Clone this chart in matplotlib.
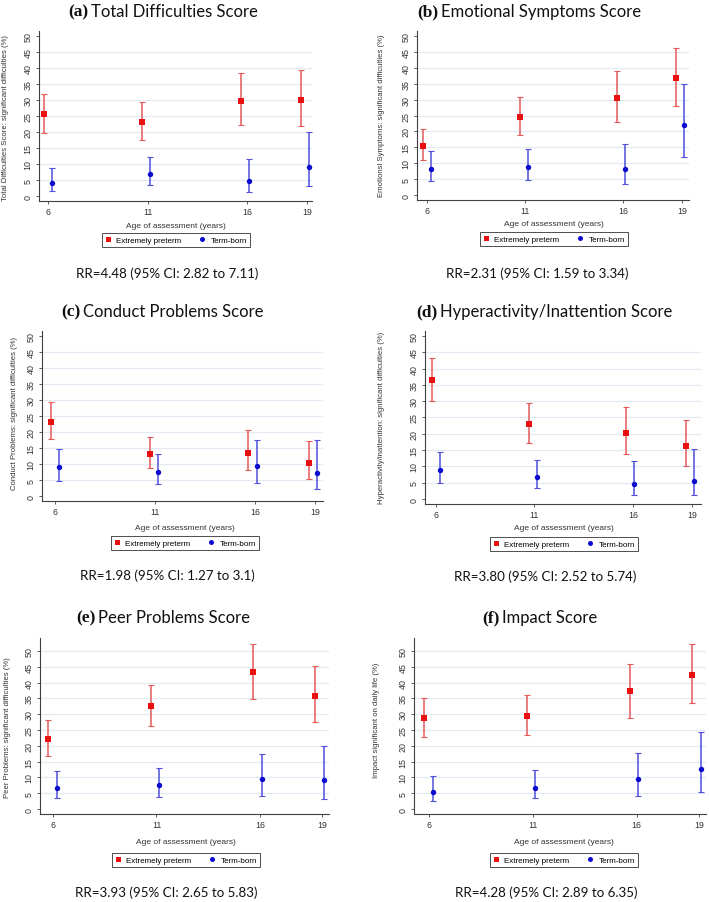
import matplotlib
matplotlib.use("Agg")
import matplotlib.pyplot as plt
from matplotlib.lines import Line2D

W, H = 709, 903

# ---------------- data ----------------
ages_ticks = [6, 11, 16, 19]
age_labels = ["6", "11", "16", "19"]
ages_ep = [5.78, 10.73, 15.67, 18.68]
ages_tb = [6.20, 11.13, 16.08, 19.08]

tds_ep = [25.5, 23.0, 29.8, 30.1]
tds_ep_lo = [19.8, 17.6, 22.3, 22.0]
tds_ep_hi = [31.8, 29.4, 38.3, 39.4]
tds_tb = [4.2, 6.8, 4.7, 9.2]
tds_tb_lo = [1.6, 3.3, 1.35, 3.0]
tds_tb_hi = [8.75, 12.1, 11.6, 20.0]

emo_ep = [15.4, 24.4, 30.5, 36.7]
emo_ep_lo = [10.9, 18.8, 23.0, 28.0]
emo_ep_hi = [20.9, 30.7, 39.1, 46.1]
emo_tb = [8.2, 8.9, 8.1, 21.9]
emo_tb_lo = [4.4, 4.8, 3.4, 11.9]
emo_tb_hi = [13.9, 14.6, 16.0, 34.9]

con_ep = [23.2, 13.0, 13.5, 10.4]
con_ep_lo = [17.9, 8.8, 8.2, 5.4]
con_ep_hi = [29.4, 18.3, 20.5, 17.3]
con_tb = [9.0, 7.4, 9.3, 7.3]
con_tb_lo = [4.8, 3.8, 4.2, 2.1]
con_tb_hi = [14.7, 13.0, 17.6, 17.6]

hyp_ep = [36.6, 23.0, 20.1, 16.3]
hyp_ep_lo = [30.1, 17.3, 13.7, 10.0]
hyp_ep_hi = [43.2, 29.3, 28.1, 24.2]
hyp_tb = [8.9, 6.8, 4.7, 5.5]
hyp_tb_lo = [4.8, 3.4, 1.3, 1.1]
hyp_tb_hi = [14.5, 12.1, 11.5, 15.2]

peer_ep = [22.2, 32.5, 43.3, 35.9]
peer_ep_lo = [16.9, 26.3, 34.8, 27.4]
peer_ep_hi = [28.3, 39.3, 52.2, 45.3]
peer_tb = [6.8, 7.5, 9.4, 9.2]
peer_tb_lo = [3.4, 3.8, 4.2, 3.1]
peer_tb_hi = [12.1, 12.9, 17.5, 20.0]

imp_ep = [28.7, 29.5, 37.2, 42.5]
imp_ep_lo = [22.9, 23.3, 28.8, 33.4]
imp_ep_hi = [35.2, 36.1, 45.9, 52.2]
imp_tb = [5.4, 6.8, 9.4, 12.7]
imp_tb_lo = [2.4, 3.4, 4.0, 5.4]
imp_tb_hi = [10.3, 12.2, 17.6, 24.5]

panel_letters = ["(a)", "(b)", "(c)", "(d)", "(e)", "(f)"]
panel_titles = ["Total Difficulties Score", "Emotional Symptoms Score",
                "Conduct Problems Score", "Hyperactivity/Inattention Score",
                "Peer Problems Score", "Impact Score"]
ylabels = ["Total Difficulties Score: significant difficulties (%)",
           "Emotionsl Symptoms: significant difficulties (%)",
           "Conduct Problems: significant difficulties (%)",
           "Hyperactivity/inattention: significant difficulties (%)",
           "Peer Problems: significant difficulties (%)",
           "Impact significant on daily life (%)"]
rr_texts = ["RR=4.48 (95% CI: 2.82 to 7.11)", "RR=2.31 (95% CI: 1.59 to 3.34)",
            "RR=1.98 (95% CI: 1.27 to 3.1)", "RR=3.80 (95% CI: 2.52 to 5.74)",
            "RR=3.93 (95% CI: 2.65 to 5.83)", "RR=4.28 (95% CI: 2.89 to 6.35)"]
series_names = ["Extremely preterm", "Term-born"]

ep_vals = [tds_ep, emo_ep, con_ep, hyp_ep, peer_ep, imp_ep]
ep_lo = [tds_ep_lo, emo_ep_lo, con_ep_lo, hyp_ep_lo, peer_ep_lo, imp_ep_lo]
ep_hi = [tds_ep_hi, emo_ep_hi, con_ep_hi, hyp_ep_hi, peer_ep_hi, imp_ep_hi]
tb_vals = [tds_tb, emo_tb, con_tb, hyp_tb, peer_tb, imp_tb]
tb_lo = [tds_tb_lo, emo_tb_lo, con_tb_lo, hyp_tb_lo, peer_tb_lo, imp_tb_lo]
tb_hi = [tds_tb_hi, emo_tb_hi, con_tb_hi, hyp_tb_hi, peer_tb_hi, imp_tb_hi]

# ---------------- layout (pixels) ----------------
geom = [
    dict(rect=(39, 32, 312, 202), ylim=(-1.56, 51.56), xlim=(5.55, 19.25), grid_max=45,
         title=(68, 12), rr=(167, 274), xl=(176, 227), leg=(176, 241), yl=(6, 118)),
    dict(rect=(417, 32, 689, 201), ylim=(-1.57, 51.6), xlim=(5.49, 19.36), grid_max=45,
         title=(417, 12), rr=(537, 274), xl=(554, 225), leg=(554, 240), yl=(381, 116)),
    dict(rect=(42, 332, 323, 502), ylim=(-1.56, 51.56), xlim=(5.35, 19.4), grid_max=45,
         title=(61, 312), rr=(167, 576), xl=(185, 528), leg=(185, 544), yl=(15, 413)),
    dict(rect=(425, 332, 701, 505), ylim=(-1.53, 51.5), xlim=(5.44, 19.46), grid_max=45,
         title=(416, 312), rr=(545, 577), xl=(564, 529), leg=(564, 545), yl=(381, 418)),
    dict(rect=(40, 639, 329, 815), ylim=(-1.58, 54.1), xlim=(5.37, 19.34), grid_max=50,
         title=(76, 618), rr=(166, 893), xl=(186, 843), leg=(186, 861), yl=(8, 728)),
    dict(rect=(414, 639, 706, 815), ylim=(-1.58, 54.1), xlim=(5.28, 19.34), grid_max=50,
         title=(482, 618), rr=(546, 893), xl=(564, 843), leg=(564, 861), yl=(377, 720)),
]

RED = "#e81010"
RED_BAR = "#e65a5a"
BLUE = "#0a0ad0"
BLUE_BAR = "#5050dc"
GRID = "#e4eaf1"
AXIS = "#404040"
SANS = "Liberation Sans"

fig = plt.figure(figsize=(W / 100, H / 100), dpi=100)
fig.patch.set_facecolor("white")


def fx(x):
    return x / W


def fy(y):
    return 1 - y / H


letter_texts = []
for i, g in enumerate(geom):
    l, t, r, b = g["rect"]
    ax = fig.add_axes([fx(l), fy(b), (r - l) / W, (b - t) / H])
    ax.set_xlim(*g["xlim"])
    ax.set_ylim(*g["ylim"])
    for gv in range(5, g["grid_max"] + 1, 5):
        ax.axhline(gv, color=GRID, lw=0.9, zorder=0)

    for xs, v, lo, hi, col, bcol, mk in [
        (ages_ep, ep_vals[i], ep_lo[i], ep_hi[i], RED, RED_BAR, "s"),
        (ages_tb, tb_vals[i], tb_lo[i], tb_hi[i], BLUE, BLUE_BAR, "o"),
    ]:
        yerr = [[vv - a for vv, a in zip(v, lo)], [c - vv for vv, c in zip(v, hi)]]
        ax.errorbar(xs, v, yerr=yerr, fmt="none", ecolor=bcol, elinewidth=1.1,
                    capsize=2.0, capthick=0.8, zorder=2)
        ax.plot(xs, v, linestyle="none", marker=mk, markersize=3.9,
                color=col, markeredgewidth=0, zorder=3)

    for s in ["top", "right"]:
        ax.spines[s].set_visible(False)
    for s in ["left", "bottom"]:
        ax.spines[s].set_color(AXIS)
        ax.spines[s].set_linewidth(0.8)
    ax.set_yticks(range(0, 51, 5))
    ax.set_yticklabels([str(v) for v in range(0, 51, 5)], rotation=90,
                       va="center", fontsize=6.4, family=SANS, color="#333333")
    ax.set_xticks(ages_ticks)
    ax.set_xticklabels(age_labels, fontsize=6.3, family=SANS, color="#333333")
    ax.tick_params(axis="both", length=2.5, width=0.6, color=AXIS, pad=2)

    fig.text(fx(g["xl"][0]), fy(g["xl"][1]), "Age of assessment (years)",
             ha="center", va="center", fontsize=6.0, family=SANS, color="#333333")
    fig.text(fx(g["yl"][0]), fy(g["yl"][1]), ylabels[i], rotation=90,
             ha="center", va="center", fontsize=5.6, family=SANS, color="#333333")
    handles = [Line2D([], [], ls="none", marker="s", color=RED, markersize=3.6,
                      markeredgewidth=0),
               Line2D([], [], ls="none", marker="o", color=BLUE, markersize=3.6,
                      markeredgewidth=0)]
    leg = fig.legend(handles, series_names, loc="center",
                     bbox_to_anchor=(fx(g["leg"][0]), fy(g["leg"][1])),
                     ncol=2, frameon=True, fancybox=False,
                     handlelength=0.8, handletextpad=0.6, columnspacing=2.2,
                     borderpad=0.35, prop={"family": SANS, "size": 5.8})
    leg.get_frame().set_edgecolor("#222222")
    leg.get_frame().set_linewidth(0.7)
    fig.text(fx(g["rr"][0]), fy(g["rr"][1]), rr_texts[i], ha="center", va="center",
             fontsize=9.6, family="Lato", color="#111111")
    lt = fig.text(fx(g["title"][0]), fy(g["title"][1]), panel_letters[i],
                  ha="left", va="center", fontsize=12.5, family="Liberation Serif",
                  fontweight="bold", color="#111111")
    letter_texts.append(lt)

fig.canvas.draw()
renderer = fig.canvas.get_renderer()
for i, lt in enumerate(letter_texts):
    bb = lt.get_window_extent(renderer)
    x1 = bb.x1 / fig.bbox.width + 0.004
    lt_y = lt.get_position()[1]
    fig.text(x1, lt_y, panel_titles[i], ha="left", va="center", fontsize=12,
             family="Lato", color="#111111")

fig.savefig("out.png", dpi=100)
